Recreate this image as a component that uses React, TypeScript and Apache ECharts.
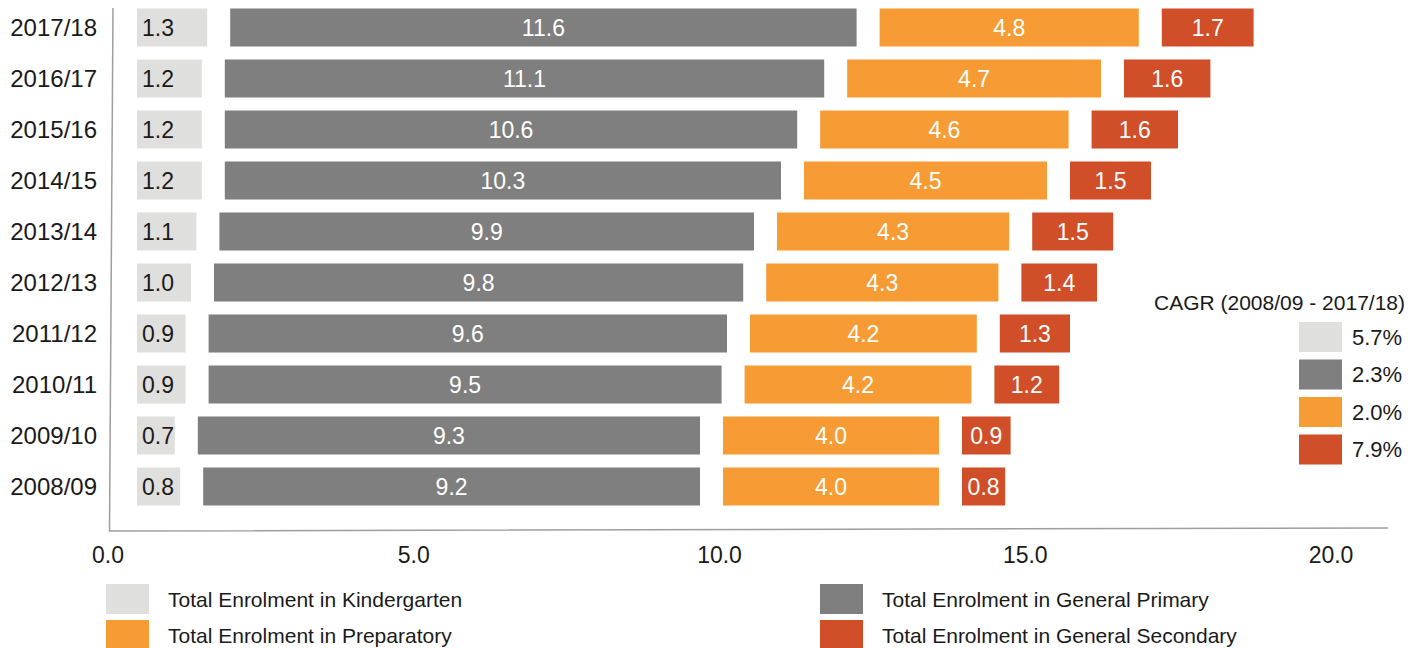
import React, { useEffect, useRef } from "react";
import * as echarts from "echarts";

// ---------- data ----------
const years = [
  "2008/09", "2009/10", "2010/11", "2011/12", "2012/13",
  "2013/14", "2014/15", "2015/16", "2016/17", "2017/18",
];
const kindergarten = [0.8, 0.7, 0.9, 0.9, 1.0, 1.1, 1.2, 1.2, 1.2, 1.3];
const primary = [9.2, 9.3, 9.5, 9.6, 9.8, 9.9, 10.3, 10.6, 11.1, 11.6];
const preparatory = [4.0, 4.0, 4.2, 4.2, 4.3, 4.3, 4.5, 4.6, 4.7, 4.8];
const secondary = [0.8, 0.9, 1.2, 1.3, 1.4, 1.5, 1.5, 1.6, 1.6, 1.7];
const seriesNames = [
  "Total Enrolment in Kindergarten",
  "Total Enrolment in General Primary",
  "Total Enrolment in Preparatory",
  "Total Enrolment in General Secondary",
];
const cagrTitle = "CAGR (2008/09 - 2017/18)";
const cagrLabels = ["5.7%", "2.3%", "2.0%", "7.9%"];
const xTickValues = [0, 5, 10, 15, 20];

// ---------- styling / layout ----------
const FONT = '"Liberation Sans", Arial, Helvetica, sans-serif';
const C_KG = "#dfdfdd";
const C_PR = "#7f7f7f";
const C_PREP = "#f79c34";
const C_SEC = "#d04f29";
const colors = [C_KG, C_PR, C_PREP, C_SEC];

const W = 1421;
const H = 648;
const GRID_LEFT = 108;
const GRID_RIGHT = 33;
const GRID_TOP = 2;
const GRID_BOTTOM = 136;
const PLOT_W = W - GRID_LEFT - GRID_RIGHT;
const BAR_PX_PER_UNIT = 54; // scale used by the bars
const AXIS_PX_PER_UNIT = 61.15; // scale of the printed axis
const START_PX = 29; // bars start a little right of the axis
const GAP_PX = 23; // white gap between segments

export default function App() {
  const ref = useRef<HTMLDivElement>(null);

  useEffect(() => {
    if (!ref.current) return;
    const chart = echarts.init(ref.current, null, { renderer: "svg" });

    const barMax = PLOT_W / BAR_PX_PER_UNIT;
    const axisMax = PLOT_W / AXIS_PX_PER_UNIT;
    const offsetVal = START_PX / BAR_PX_PER_UNIT;
    const gapVal = GAP_PX / BAR_PX_PER_UNIT;

    const spacer = (name: string, v: number) => ({
      type: "bar",
      name,
      stack: "total",
      xAxisIndex: 1,
      barWidth: 38,
      silent: true,
      data: years.map(() => v),
      itemStyle: { color: "rgba(0,0,0,0)" },
      label: { show: false },
      emphasis: { disabled: true },
      tooltip: { show: false },
    });

    const real = (name: string, data: number[], color: string, dark: boolean) => ({
      type: "bar",
      name,
      stack: "total",
      xAxisIndex: 1,
      barWidth: 38,
      data,
      itemStyle: { color },
      emphasis: { disabled: true },
      label: {
        show: true,
        position: dark ? "insideLeft" : "inside",
        distance: 5,
        color: dark ? "#1a1a1a" : "#ffffff",
        fontSize: 23,
        fontFamily: FONT,
        formatter: (p: any) => Number(p.value).toFixed(1),
      },
    });

    const cagrGraphics: any[] = [
      {
        type: "text",
        x: 1405,
        y: 302,
        style: {
          text: cagrTitle,
          fill: "#1a1a1a",
          font: `21px ${FONT}`,
          textAlign: "right",
          textVerticalAlign: "middle",
        },
      },
    ];
    cagrLabels.forEach((lab, i) => {
      cagrGraphics.push({
        type: "rect",
        shape: { x: 1299, y: 322 + i * 37.5, width: 43, height: 30 },
        style: { fill: colors[i] },
      });
      cagrGraphics.push({
        type: "text",
        x: 1352,
        y: 337 + i * 37.5,
        style: {
          text: lab,
          fill: "#1a1a1a",
          font: `22px ${FONT}`,
          textAlign: "left",
          textVerticalAlign: "middle",
        },
      });
    });

    const option: any = {
      animation: false,
      textStyle: { fontFamily: FONT },
      grid: {
        left: GRID_LEFT,
        right: GRID_RIGHT,
        top: GRID_TOP,
        bottom: GRID_BOTTOM,
        containLabel: false,
      },
      xAxis: [
        {
          type: "value",
          position: "bottom",
          min: 0,
          max: axisMax,
          interval: 5,
          axisLine: { show: false },
          axisTick: { show: false },
          splitLine: { show: false },
          axisLabel: {
            margin: 31,
            fontSize: 23,
            color: "#1a1a1a",
            fontFamily: FONT,
            showMaxLabel: false,
            formatter: (v: number) =>
              xTickValues.indexOf(v) >= 0 ? v.toFixed(1) : "",
          },
        },
        {
          type: "value",
          position: "top",
          min: 0,
          max: barMax,
          show: false,
        },
      ],
      yAxis: {
        type: "category",
        data: years,
        axisLine: { show: false },
        axisTick: { show: false },
        splitLine: { show: false },
        axisLabel: {
          margin: 11,
          fontSize: 24,
          color: "#1a1a1a",
          fontFamily: FONT,
          padding: [0, 0, 6, 0],
        },
      },
      legend: seriesNames.map((n, i) => ({
        data: [n],
        left: i % 2 === 0 ? 106 : 820,
        top: 584 + Math.floor(i / 2) * 36,
        padding: 0,
        itemWidth: 43,
        itemHeight: 30,
        icon: "rect",
        selectedMode: false,
        textStyle: {
          fontSize: 21,
          color: "#1a1a1a",
          fontFamily: FONT,
          padding: [0, 0, 0, 14],
        },
      })),
      series: [
        spacer("_start", offsetVal),
        real(seriesNames[0], kindergarten, C_KG, true),
        spacer("_gap1", gapVal),
        real(seriesNames[1], primary, C_PR, false),
        spacer("_gap2", gapVal),
        real(seriesNames[2], preparatory, C_PREP, false),
        spacer("_gap3", gapVal),
        real(seriesNames[3], secondary, C_SEC, false),
      ],
      graphic: [
        {
          type: "polyline",
          silent: true,
          shape: {
            points: [
              [113, 8],
              [109.5, 531],
              [1388, 528],
            ],
          },
          style: { stroke: "#9e9e9e", lineWidth: 1.5, fill: null },
        },
        ...cagrGraphics,
      ],
    };

    chart.setOption(option);
    return () => chart.dispose();
  }, []);

  return (
    <div
      ref={ref}
      style={{
        position: "fixed",
        left: 0,
        top: 0,
        width: W,
        height: H,
        background: "#ffffff",
      }}
    />
  );
}
